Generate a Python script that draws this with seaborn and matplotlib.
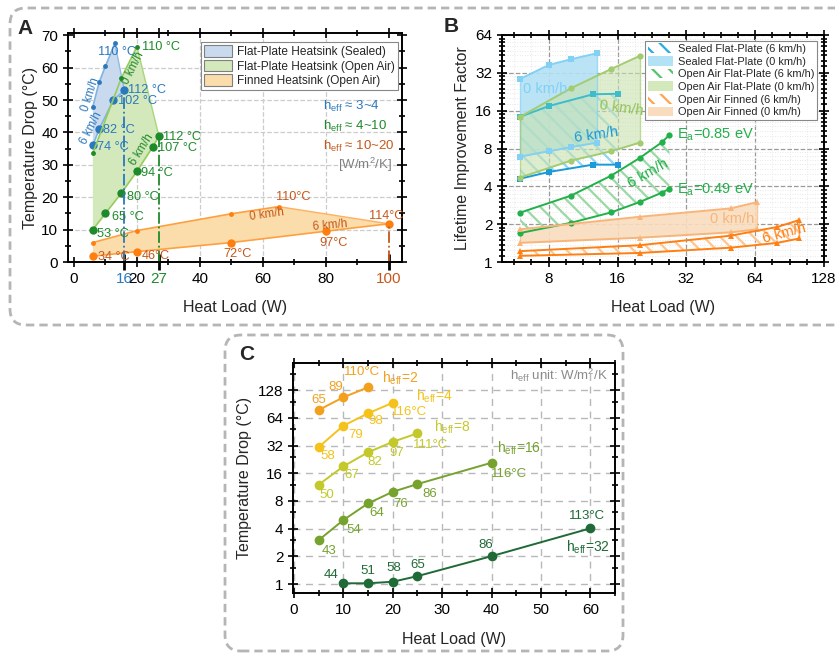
import numpy as np
import matplotlib
matplotlib.use("Agg")
import matplotlib.pyplot as plt
import seaborn as sns
from matplotlib.patches import Patch, FancyBboxPatch
from matplotlib.ticker import FixedLocator, NullFormatter, MultipleLocator

sns.set_style("ticks")
plt.rcParams["font.family"] = ["Liberation Sans", "DejaVu Sans"]
plt.rcParams["mathtext.fontset"] = "custom"
plt.rcParams["mathtext.rm"] = "Liberation Sans"
plt.rcParams["hatch.linewidth"] = 1.6

# ---------------- Panel A data (heat load W, temperature drop C) ----------------
a_seal_0_x = [6, 8, 10, 13]
a_seal_0_y = [48, 55.5, 60.5, 67.5]
a_seal_6_x = [6, 8, 12.5, 16]
a_seal_6_y = [36, 41, 50, 53]
a_open_0_x = [6, 15, 20]
a_open_0_y = [33.7, 56.7, 66.5]
a_open_6_x = [6, 10, 15, 20, 25, 27]
a_open_6_y = [10, 15, 21.2, 28, 35.5, 38.8]
a_fin_0_x = [6, 20, 50, 65]
a_fin_0_y = [6, 9.7, 14.9, 17.1]
a_fin_6_x = [6, 20, 50, 80, 100]
a_fin_6_y = [1.8, 3.2, 6.0, 9.5, 11.8]
a_xticks = [0, 16, 20, 27, 40, 60, 80, 100]

# ---------------- Panel B data (lifetime improvement factor) ----------------
b_seal_0_x = [6, 8, 10, 13]
b_seal_0_hi = [28.6, 36.9, 41.0, 45.8]
b_seal_0_lo = [6.9, 7.6, 8.2, 8.9]
b_seal_6_x = [6, 8, 12.5, 16]
b_seal_6_hi = [14.3, 17.4, 21.6, 21.8]
b_seal_6_lo = [4.6, 5.2, 5.95, 5.95]
b_open_0_x = [6, 10, 15, 20]
b_open_0_hi = [14.3, 24.1, 34.3, 43.6]
b_open_0_lo = [4.7, 6.4, 7.6, 8.9]
b_open_6_x = [6, 10, 15, 20, 25, 27]
b_open_6_hi = [2.47, 3.37, 4.86, 6.72, 8.96, 10.25]
b_open_6_lo = [1.7, 2.05, 2.48, 3.0, 3.56, 3.83]
b_fin_0_x = [6, 20, 50, 65]
b_fin_0_hi = [1.82, 2.29, 2.67, 2.99]
b_fin_0_lo = [1.42, 1.56, 1.72, 1.82]
b_fin_6_x = [6, 20, 50, 80, 100]
b_fin_6_hi = [1.22, 1.36, 1.62, 1.9, 2.16]
b_fin_6_lo = [1.12, 1.18, 1.3, 1.42, 1.54]

# ---------------- Panel C data ----------------
c_h2_x = [5, 10, 15]
c_h2_y = [77.7, 107, 137]
c_h2_lab = ["65", "89", "110°C"]
c_h4_x = [5, 10, 15, 20]
c_h4_y = [30.8, 52.5, 71.5, 93.3]
c_h4_lab = ["58", "79", "98", "116°C"]
c_h8_x = [5, 10, 15, 20, 25]
c_h8_y = [12.0, 19.0, 27.0, 35.1, 43.4]
c_h8_lab = ["50", "67", "82", "97", "111°C"]
c_h16_x = [5, 10, 15, 20, 25, 40]
c_h16_y = [3.0, 4.96, 7.53, 10.06, 12.2, 20.8]
c_h16_lab = ["43", "54", "64", "76", "86", "116°C"]
c_h32_x = [10, 15, 20, 25, 40, 60]
c_h32_y = [1.02, 1.02, 1.06, 1.22, 2.01, 4.03]
c_h32_lab = ["44", "51", "58", "65", "86", "113°C"]

W, H = 835, 654
fig = plt.figure(figsize=(W / 100, H / 100), dpi=100)


def rect(l, t, r, b):
    return [l / W, 1 - b / H, (r - l) / W, (b - t) / H]


def style_axes(ax):
    for s in ax.spines.values():
        s.set_linewidth(1.4)
        s.set_color("black")
    ax.tick_params(which="both", direction="inout", top=True, right=True,
                   labelsize=11, width=1.2, colors="black")
    ax.tick_params(which="major", length=7)
    ax.tick_params(which="minor", length=4)
    ax.set_axisbelow(True)


def line(ax, x, y, color, marker="o", ms=5, lw=1.2, mcolor=None):
    sns.lineplot(x=x, y=y, ax=ax, color=color, lw=lw, marker=marker, markersize=ms,
                 markeredgewidth=0, markerfacecolor=mcolor or color, sort=False,
                 errorbar=None, legend=False)


# dashed rounded frames
for x0, y0, w, h in [(0.10, 3.29, 9.0, 3.17), (2.25, 0.03, 3.98, 3.16)]:
    fig.patches.append(FancyBboxPatch((x0, y0), w, h, boxstyle="round,pad=0,rounding_size=0.16",
                                      transform=fig.dpi_scale_trans, fc="none", ec="#b5b5b5",
                                      lw=2, ls=(0, (3, 1.8))))

# ======================= Panel A =======================
BLUE, GREEN, ORANGE = "#2a78bd", "#1e8a2a", "#ff7f0e"
BROWN = "#c5581a"
axA = fig.add_axes(rect(68, 33, 402, 262))
style_axes(axA)
axA.fill(np.r_[a_open_0_x, a_open_6_x[::-1]], np.r_[a_open_0_y, a_open_6_y[::-1]],
         color="#d3e8bb", lw=0, zorder=1)
axA.fill(np.r_[a_seal_0_x, a_seal_6_x[::-1]], np.r_[a_seal_0_y, a_seal_6_y[::-1]],
         color="#c9daef", lw=0, zorder=1)
axA.fill(np.r_[a_fin_0_x, a_fin_6_x[::-1]], np.r_[a_fin_0_y, a_fin_6_y[::-1]],
         color="#fbdcab", lw=0, zorder=1)
# closing edges of the shaded regions
axA.plot([a_seal_0_x[-1], a_seal_6_x[-1]], [a_seal_0_y[-1], a_seal_6_y[-1]], color="#8fbbe3", lw=1)
axA.plot([a_open_0_x[-1], a_open_6_x[-1]], [a_open_0_y[-1], a_open_6_y[-1]], color="#a9d67a", lw=1)
axA.plot([a_fin_0_x[-1], a_fin_6_x[-1]], [a_fin_0_y[-1], a_fin_6_y[-1]], color="#ffb060", lw=1)

line(axA, a_seal_0_x, a_seal_0_y, "#7fb3e0", ms=3.5, mcolor=BLUE)
line(axA, a_seal_6_x, a_seal_6_y, "#7fb3e0", ms=6, mcolor=BLUE)
line(axA, a_open_0_x, a_open_0_y, "#95cc5a", ms=3.5, mcolor=GREEN)
line(axA, a_open_6_x, a_open_6_y, "#95cc5a", ms=6, mcolor=GREEN)
line(axA, a_fin_0_x, a_fin_0_y, "#ffa040", ms=3.5, mcolor=ORANGE)
line(axA, a_fin_6_x, a_fin_6_y, "#ffa040", ms=6, mcolor=ORANGE)

for xs, ys, c in [(a_seal_6_x, a_seal_6_y, BLUE), (a_open_6_x, a_open_6_y, GREEN),
                  (a_fin_6_x, a_fin_6_y, BROWN)]:
    axA.vlines(xs[-1], 0, ys[-1], colors=c, linestyles="-.", lw=1.3, zorder=2)

axA.set_xlim(-1.9, 104.2)
axA.set_ylim(0, 70.7)
axA.set_xticks(a_xticks)
axA.set_yticks(range(0, 71, 10))
axA.xaxis.set_minor_locator(MultipleLocator(10))
axA.yaxis.set_minor_locator(MultipleLocator(5))
axA.grid(True, which="major", ls="--", color="#cccccc", lw=0.9)
axA.set_xlabel("Heat Load (W)", fontsize=11.5, labelpad=10)
axA.set_ylabel("Temperature Drop (°C)", fontsize=11.5, labelpad=2)

fs = 9.2
for s, x, y in [("110 °C", 7.6, 64.8), ("112 °C", 17.1, 53.1), ("102 °C", 14.0, 49.8),
                ("82 °C", 9.2, 40.7), ("74 °C", 7.4, 35.6)]:
    axA.text(x, y, s, color=BLUE, fontsize=fs, va="center")
for s, x, y in [("110 °C", 21.5, 66.5), ("112 °C", 28.3, 38.7), ("107 °C", 26.8, 35.1),
                ("94 °C", 21.2, 27.4), ("80 °C", 16.7, 20.2), ("65 °C", 12.0, 14.0),
                ("53 °C", 7.4, 8.5)]:
    axA.text(x, y, s, color=GREEN, fontsize=fs, va="center")
for s, x, y in [("34 °C", 7.6, 1.6), ("46°C", 21.5, 1.9)]:
    axA.text(x, y, s, color=BROWN, fontsize=fs, va="center")
for s, x, y in [("72°C", 51.9, 2.5), ("97°C", 82.5, 5.8), ("114°C", 99.3, 14.2),
                ("110°C", 69.5, 20.0)]:
    axA.text(x, y, s, color=BROWN, fontsize=fs, va="center", ha="center")
axA.text(5.1, 51.8, "0 km/h", color=BLUE, fontsize=8.3, rotation=72, ha="center", va="center")
axA.text(5.6, 41.3, "6 km/h", color=BLUE, fontsize=8.3, rotation=63, ha="center", va="center")
axA.text(18.8, 59.8, "0 km/h", color=GREEN, fontsize=8.3, rotation=63, ha="center", va="center")
axA.text(21.5, 34.6, "6 km/h", color=GREEN, fontsize=8.3, rotation=58, ha="center", va="center")
axA.text(61.2, 14.5, "0 km/h", color=BROWN, fontsize=8.3, rotation=8, ha="center", va="center")
axA.text(81.3, 11.4, "6 km/h", color=BROWN, fontsize=8.3, rotation=5, ha="center", va="center")
axA.text(79, 48.1, r"h$_{\mathregular{eff}}$ ≈ 3~4", color=BLUE, fontsize=9.5, va="center")
axA.text(79, 42.0, r"h$_{\mathregular{eff}}$ ≈ 4~10", color=GREEN, fontsize=9.5, va="center")
axA.text(79, 35.8, r"h$_{\mathregular{eff}}$ ≈ 10~20", color=BROWN, fontsize=9.5, va="center")
axA.text(100.9, 29.9, r"[W/m$^{\mathregular{2}}$/K]", color="#808080", fontsize=9.5,
         va="center", ha="right")
legA = axA.legend(handles=[Patch(fc="#c9daef", ec="#7f7f7f", lw=0.8, label="Flat-Plate Heatsink (Sealed)"),
                           Patch(fc="#d3e8bb", ec="#7f7f7f", lw=0.8, label="Flat-Plate Heatsink (Open Air)"),
                           Patch(fc="#fbdcab", ec="#7f7f7f", lw=0.8, label="Finned Heatsink (Open Air)")],
                  loc="upper right", bbox_to_anchor=(0.995, 0.97), fontsize=8.6, frameon=True,
                  fancybox=False, edgecolor="#888888", framealpha=1, borderpad=0.25,
                  labelspacing=0.15, handlelength=2.4, handleheight=1.1, handletextpad=0.4,
                  borderaxespad=0.2)
legA.get_frame().set_linewidth(0.8)

# ======================= Panel B =======================
axB = fig.add_axes(rect(502, 35, 824, 262))
style_axes(axB)
axB.set_xscale("log", base=2)
axB.set_yscale("log", base=2)
axB.set_xlim(5, 128)
axB.set_ylim(1, 64)

SEAL0, SEAL6H, SEAL6L = "#82d0f3", "#3cbccd", "#1a9ad8"
OPEN0, OPEN6 = "#a3cc70", "#22b04a"
FIN0, FIN6 = "#f7b57a", "#ff7f12"
HATCH = "\\\\"

axB.fill_between(b_seal_0_x, b_seal_0_lo, b_seal_0_hi, fc="#b3e1f6", lw=0, alpha=0.9, zorder=1)
axB.fill_between(b_seal_6_x, b_seal_6_lo, b_seal_6_hi, fc="none", ec="#8fd5f2", hatch=HATCH, lw=0, zorder=1)
axB.fill_between(b_open_0_x, b_open_0_lo, b_open_0_hi, fc="#c8e2ad", lw=0, alpha=0.6, zorder=1)
axB.fill_between(b_open_6_x, b_open_6_lo, b_open_6_hi, fc="none", ec="#9ad9a5", hatch=HATCH, lw=0, zorder=1)
axB.fill_between(b_fin_0_x, b_fin_0_lo, b_fin_0_hi, fc="#f9dcbd", lw=0, alpha=0.9, zorder=1)
axB.fill_between(b_fin_6_x, b_fin_6_lo, b_fin_6_hi, fc="none", ec="#ffc58f", hatch=HATCH, lw=0, zorder=1)
for xs, lo, hi, c in [(b_seal_0_x, b_seal_0_lo, b_seal_0_hi, SEAL0), (b_open_0_x, b_open_0_lo, b_open_0_hi, OPEN0),
                      (b_fin_0_x, b_fin_0_lo, b_fin_0_hi, FIN0), (b_fin_6_x, b_fin_6_lo, b_fin_6_hi, FIN6)]:
    axB.vlines([xs[0], xs[-1]], [lo[0], lo[-1]], [hi[0], hi[-1]], colors=c, lw=1, alpha=0.7)

line(axB, b_seal_0_x, b_seal_0_hi, SEAL0, marker="s", ms=4.5, lw=1.4)
line(axB, b_seal_0_x, b_seal_0_lo, SEAL0, marker="s", ms=4.5, lw=1.4)
line(axB, b_seal_6_x, b_seal_6_hi, SEAL6H, marker="s", ms=4.5, lw=1.4)
line(axB, b_seal_6_x, b_seal_6_lo, SEAL6L, marker="s", ms=4.5, lw=1.4)
line(axB, b_open_0_x, b_open_0_hi, OPEN0, marker="o", ms=4.5, lw=1.4)
line(axB, b_open_0_x, b_open_0_lo, OPEN0, marker="o", ms=4.5, lw=1.4)
line(axB, b_open_6_x, b_open_6_hi, OPEN6, marker="o", ms=4.5, lw=1.4)
line(axB, b_open_6_x, b_open_6_lo, OPEN6, marker="o", ms=4.5, lw=1.4)
line(axB, b_fin_0_x, b_fin_0_hi, FIN0, marker="^", ms=4.5, lw=1.4)
line(axB, b_fin_0_x, b_fin_0_lo, FIN0, marker="^", ms=4.5, lw=1.4)
line(axB, b_fin_6_x, b_fin_6_hi, FIN6, marker="^", ms=4.5, lw=1.4)
line(axB, b_fin_6_x, b_fin_6_lo, FIN6, marker="^", ms=4.5, lw=1.4)

b_xmajor = [8, 16, 32, 64, 128]
b_ymajor = [1, 2, 4, 8, 16, 32, 64]
axB.xaxis.set_major_locator(FixedLocator(b_xmajor))
axB.set_xticklabels([str(v) for v in b_xmajor])
axB.yaxis.set_major_locator(FixedLocator(b_ymajor))
axB.set_yticklabels([str(v) for v in b_ymajor])
axB.xaxis.set_minor_locator(FixedLocator([2 ** (k + j / 4) for k in range(2, 7) for j in (1, 2, 3)]))
axB.yaxis.set_minor_locator(FixedLocator([2 ** k * (1 + j / 8) for k in range(0, 6) for j in range(1, 8)]))
axB.xaxis.set_minor_formatter(NullFormatter())
axB.yaxis.set_minor_formatter(NullFormatter())
axB.grid(True, which="minor", ls=(0, (1, 2)), color="#e2e2e2", lw=0.6)
axB.grid(True, which="major", ls="--", color="#9a9a9a", lw=0.9)
axB.set_xlabel("Heat Load (W)", fontsize=11.5, labelpad=10)
axB.set_ylabel("Lifetime Improvement Factor", fontsize=11.5, labelpad=4)

axB.text(7.7, 23.7, "0 km/h", color=SEAL0, fontsize=10.5, ha="center", va="center")
axB.text(12.9, 10.25, "6 km/h", color=SEAL6L, fontsize=10.5, ha="center", va="center", rotation=8)
axB.text(16.6, 16.7, "0 km/h", color="#93c35a", fontsize=10.5, ha="center", va="center", rotation=-8)
axB.text(21.7, 5.1, "6 km/h", color=OPEN6, fontsize=10.5, ha="center", va="center", rotation=30)
axB.text(29.0, 10.25, r"E$_{\mathregular{a}}$=0.85 eV", color=OPEN6, fontsize=10.5, va="center")
axB.text(29.0, 3.74, r"E$_{\mathregular{a}}$=0.49 eV", color=OPEN6, fontsize=10.5, va="center")
axB.text(50.9, 2.19, "0 km/h", color=FIN0, fontsize=10.5, ha="center", va="center")
axB.text(85.5, 1.69, "6 km/h", color=FIN6, fontsize=10.5, ha="center", va="center", rotation=15)

legB = axB.legend(handles=[Patch(fc="white", ec="#29abe2", hatch=HATCH, lw=0, label="Sealed Flat-Plate (6 km/h)"),
                           Patch(fc="#b3e1f6", lw=0, label="Sealed Flat-Plate (0 km/h)"),
                           Patch(fc="white", ec="#55c56c", hatch=HATCH, lw=0, label="Open Air Flat-Plate (6 km/h)"),
                           Patch(fc="#d3e8bb", lw=0, label="Open Air Flat-Plate (0 km/h)"),
                           Patch(fc="white", ec="#ffa450", hatch=HATCH, lw=0, label="Open Air Finned (6 km/h)"),
                           Patch(fc="#f9dcbd", lw=0, label="Open Air Finned (0 km/h)")],
                  loc="upper right", bbox_to_anchor=(0.985, 0.985), fontsize=7.9, frameon=True,
                  fancybox=False, edgecolor="#888888", framealpha=1, borderpad=0.25,
                  labelspacing=0.18, handlelength=2.3, handleheight=1.0, handletextpad=0.4,
                  borderaxespad=0.2)
legB.get_frame().set_linewidth(0.8)

# ======================= Panel C =======================
axC = fig.add_axes(rect(293, 363, 615, 593))
style_axes(axC)
axC.set_yscale("log", base=2)
axC.set_xlim(-0.2, 65)
axC.set_ylim(0.8, 252)
c_series = [
    (c_h2_x, c_h2_y, c_h2_lab, "#f2a01e", [(0, 10), (-8, 10), (-6, 15)]),
    (c_h4_x, c_h4_y, c_h4_lab, "#f5c21c", [(9, -9), (12, -9), (8, -8), (16, -9)]),
    (c_h8_x, c_h8_y, c_h8_lab, "#c3c92a", [(8, -10), (8, -9), (7, -10), (4, -11), (13, -12)]),
    (c_h16_x, c_h16_y, c_h16_lab, "#76a22e", [(10, -11), (10, -10), (9, -10), (8, -12), (12, -10), (17, -11)]),
    (c_h32_x, c_h32_y, c_h32_lab, "#1f6a36", [(-12, 8), (0, 12), (1, 14), (0, 11), (-6, 11), (-3, 12)]),
]
for xs, ys, labs, c, offs in c_series:
    line(axC, xs, ys, c, marker="o", ms=7, lw=1.4)
    for x, y, s, (dx, dy) in zip(xs, ys, labs, offs):
        axC.annotate(s, (x, y), xytext=(dx, dy), textcoords="offset pixels", color=c,
                     fontsize=9.5, ha="center", va="center")
for s, x, y, c in [("2", 21.5, 173, "#f2a01e"), ("4", 28.4, 110, "#f5c21c"), ("8", 32.0, 50.8, "#c3c92a"),
                   ("16", 45.6, 30.0, "#76a22e"), ("32", 59.6, 2.52, "#1f6a36")]:
    axC.text(x, y, r"h$_{\mathregular{eff}}$=" + s, color=c, fontsize=10, ha="center", va="center")
axC.text(63.5, 183, r"h$_{\mathregular{eff}}$ unit: W/m$^{\mathregular{2}}$/K", color="#8a8a8a",
         fontsize=9.5, ha="right", va="center")

c_ymajor = [1, 2, 4, 8, 16, 32, 64, 128]
axC.yaxis.set_major_locator(FixedLocator(c_ymajor))
axC.set_yticklabels([str(v) for v in c_ymajor])
axC.yaxis.set_minor_locator(FixedLocator([1.5 * v for v in c_ymajor]))
axC.yaxis.set_minor_formatter(NullFormatter())
axC.set_xticks(range(0, 61, 10))
axC.xaxis.set_minor_locator(MultipleLocator(5))
axC.grid(True, which="major", ls=(0, (5, 4)), color="#b8b8b8", lw=1.0)
axC.set_xlabel("Heat Load (W)", fontsize=11.5, labelpad=11)
axC.set_ylabel("Temperature Drop (°C)", fontsize=11.5, labelpad=4)

for s, px, py in [("A", 25, 28), ("B", 451, 27), ("C", 247, 354)]:
    fig.text(px / W, 1 - py / H, s, fontsize=15, fontweight="bold", ha="center", va="center")

# colour the special ticks of panel A once their positions are final
fig.canvas.draw()
tick_colors = {16: BLUE, 27: GREEN, 100: BROWN}
for t in axA.xaxis.get_major_ticks():
    v = round(t.get_loc(), 3)
    if v in (0, 16, 27, 100):
        t.gridline.set_visible(False)
    if v in tick_colors:
        t.label1.set_color(tick_colors[v])
        t.tick1line.set_color(tick_colors[v])
        t.tick1line.set_markeredgewidth(2)
        t.tick1line.set_markersize(11)
for t in axA.yaxis.get_major_ticks():
    if round(t.get_loc(), 3) in (0, 70):
        t.gridline.set_visible(False)

fig.savefig("out.png", dpi=100)
